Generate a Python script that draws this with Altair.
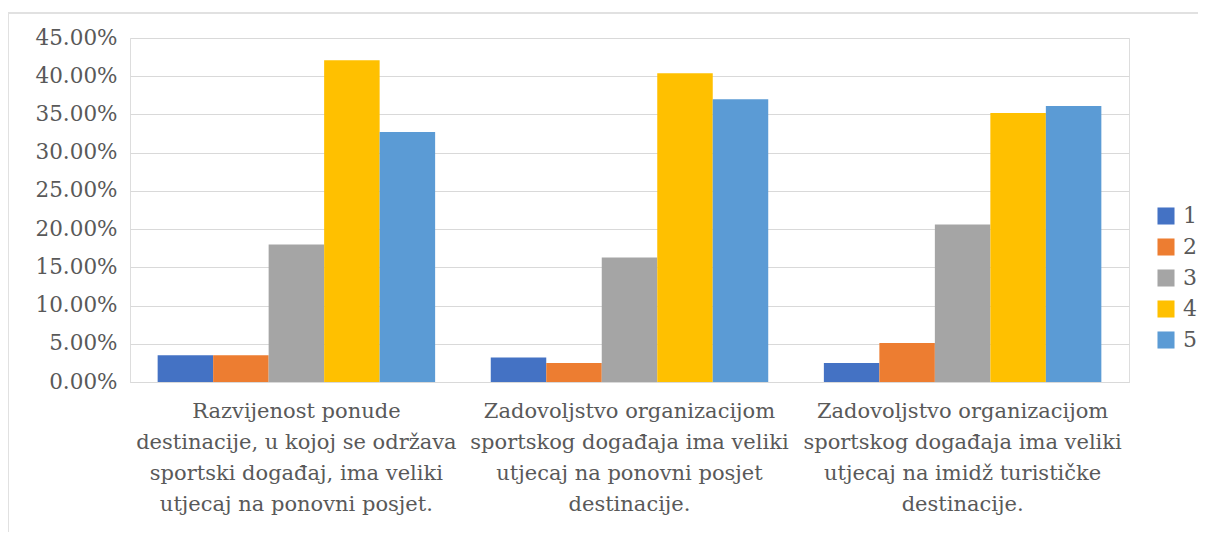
import altair as alt
import pandas as pd

categories = [
    ["Razvijenost ponude", "destinacije, u kojoj se održava", "sportski događaj, ima veliki", "utjecaj na ponovni posjet."],
    ["Zadovoljstvo organizacijom", "sportskog događaja ima veliki", "utjecaj na ponovni posjet", "destinacije."],
    ["Zadovoljstvo organizacijom", "sportskog događaja ima veliki", "utjecaj na imidž turističke", "destinacije."],
]
series = ["1", "2", "3", "4", "5"]
values = [
    [0.035, 0.035, 0.180, 0.421, 0.327],
    [0.032, 0.025, 0.163, 0.404, 0.370],
    [0.025, 0.051, 0.206, 0.352, 0.361],
]
colors = ["#4472C4", "#ED7D31", "#A5A5A5", "#FFC000", "#5B9BD5"]
y_ticks = [0, 0.05, 0.10, 0.15, 0.20, 0.25, 0.30, 0.35, 0.40, 0.45]

cat_keys = [" ".join(c) for c in categories]
rows = []
for ci, key in enumerate(cat_keys):
    for si, s in enumerate(series):
        rows.append({"cat": key, "series": s, "value": values[ci][si]})
df = pd.DataFrame(rows)

lines_map = {" ".join(c): "|".join(c) for c in categories}
expr_parts = " : ".join(
    [f"datum.value == '{k}' ? split('{v}', '|')" for k, v in lines_map.items()]
) + " : datum.label"

FONT = "DejaVu Serif"
TXT = "#595959"

bars = alt.Chart(df).mark_bar().encode(
    x=alt.X("cat:N", sort=cat_keys, title=None,
            scale=alt.Scale(paddingInner=0.167, paddingOuter=0.083),
            axis=alt.Axis(labelExpr=expr_parts, labelAngle=0, labelFont=FONT,
                          labelFontSize=21, labelColor=TXT, labelLineHeight=31,
                          labelPadding=18, ticks=False, domain=True,
                          domainColor="#D9D9D9", labelBaseline="top",
                          labelLimit=400)),
    xOffset=alt.XOffset("series:N", sort=series, scale=alt.Scale(paddingInner=0, paddingOuter=0)),
    y=alt.Y("value:Q", title=None,
            scale=alt.Scale(domain=[0, 0.45], nice=False),
            axis=alt.Axis(values=y_ticks, format=".2%", labelFont=FONT,
                          labelFontSize=21.5, labelColor=TXT, labelPadding=13,
                          ticks=False, domain=False, gridColor="#D9D9D9",
                          gridWidth=1.2)),
    color=alt.Color("series:N", sort=series, title=None,
                    scale=alt.Scale(domain=series, range=colors),
                    legend=alt.Legend(orient="none", legendX=1025, legendY=167,
                                      symbolType="square", symbolSize=290,
                                      symbolStrokeWidth=0, labelFont=FONT,
                                      labelFontSize=22, labelColor=TXT,
                                      rowPadding=9, labelOffset=6)),
)

frame_top = alt.Chart(df).mark_rule(color="#E0E0E0", strokeWidth=1.5).encode(
    x=alt.value(-122), x2=alt.value(1080), y=alt.value(-25))
frame_left = alt.Chart(df).mark_rule(color="#E0E0E0", strokeWidth=1.5).encode(
    x=alt.value(-122), y=alt.value(-25), y2=alt.value(520))

chart = alt.layer(frame_top, frame_left, bars).properties(
    width=999, height=344,
    autosize=alt.AutoSizeParams(type="none"),
    padding={"left": 122, "top": 30, "right": 69, "bottom": 150},
).configure_view(strokeWidth=0, stroke="transparent").configure(background="white")

chart.save("out.html", embed_options={"renderer": "svg", "actions": False})
